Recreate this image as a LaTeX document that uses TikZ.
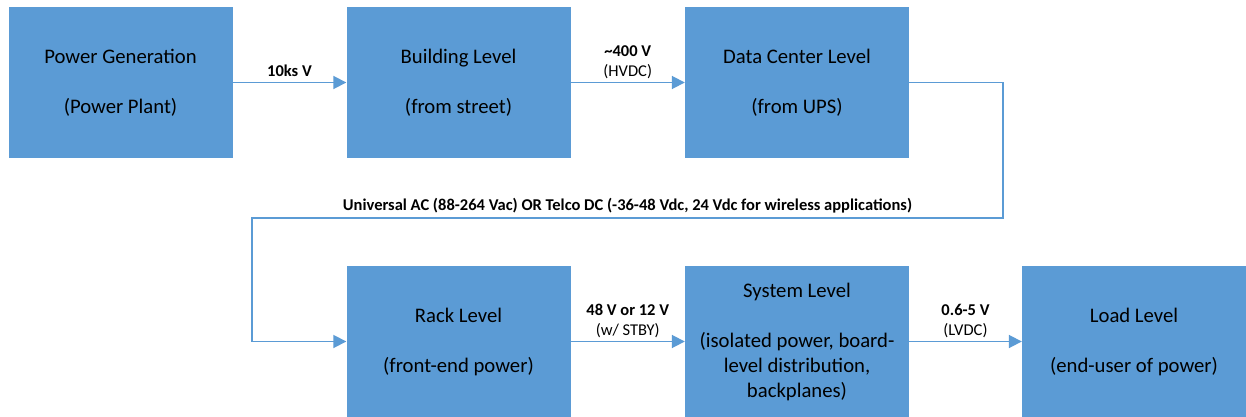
\documentclass[tikz,border=0pt]{standalone}
\usepackage{fontspec}
\setmainfont{Carlito}
\usetikzlibrary{arrows.meta}
\definecolor{boxblue}{HTML}{5B9BD5}
\begin{document}
\begin{tikzpicture}[x=1pt,y=-1pt,
  blk/.style={fill=boxblue, draw=none, minimum width=224pt, minimum height=151pt, align=center, font=\fontsize{20.7}{25}\selectfont, inner sep=0pt},
  conn/.style={draw=boxblue, line width=1.8pt, -{Triangle[length=13pt,width=13pt]}},
  lbl/.style={font=\fontsize{16.5}{19.5}\selectfont, align=center, inner sep=0pt}]
\useasboundingbox (0,0) rectangle (1246,417);
\fill[white] (0,0) rectangle (1246,417);
\node[blk] (pg) at (120.5,82.5) {Power Generation\\[25pt](Power Plant)};
\node[blk] (bl) at (458.5,82.5) {Building Level\\[25pt](from street)};
\node[blk] (dc) at (797,82.5) {Data Center Level\\[25pt](from UPS)};
\node[blk] (rk) at (458.5,341.5) {Rack Level\\[25pt](front-end power)};
\node[blk] (sy) at (797,341.5) {System Level\\[25pt](isolated power, board-\\level distribution,\\backplanes)};
\node[blk] (ld) at (1134,341.5) {Load Level\\[25pt](end-user of power)};
\coordinate (c1) at (1003,218);
\coordinate (c2) at (252,341.5);
\draw[conn] (pg) -- node[lbl, above=5pt]{\textbf{10ks V}} (bl);
\draw[conn] (bl) -- node[lbl, above=3pt]{\textbf{\textasciitilde400 V}\\(HVDC)} (dc);
\draw[conn] (rk) -- node[lbl, above=3pt]{\textbf{48 V or 12 V}\\(w/ STBY)} (sy);
\draw[conn] (sy) -- node[lbl, above=3pt]{\textbf{0.6-5 V}\\(LVDC)} (ld);
\draw[conn] (dc.east) -| (c1) -| (c2) -- (rk.west);
\node[lbl, anchor=base] (ul) at (627.5,210) {\textbf{Universal AC (88-264 Vac) OR Telco DC (-36-48 Vdc, 24 Vdc for wireless applications)}};
\end{tikzpicture}
\end{document}
